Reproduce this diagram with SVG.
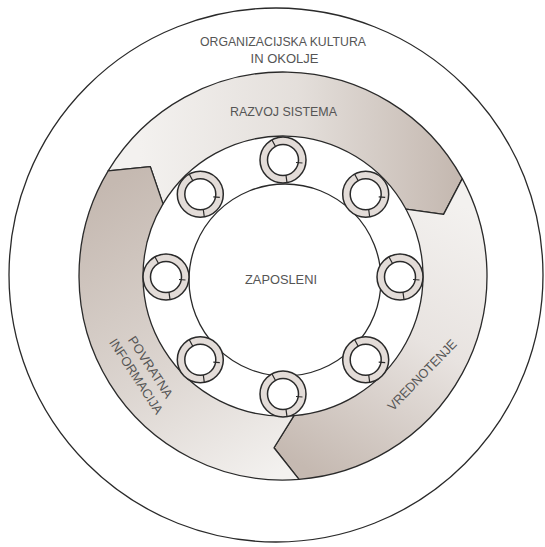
<svg xmlns="http://www.w3.org/2000/svg" xmlns:xlink="http://www.w3.org/1999/xlink" width="545" height="547" viewBox="0 0 545 547">
<style>
.ln{fill:none;stroke:#2a2a2a;stroke-width:1.3}
.seg{stroke:#2a2a2a;stroke-width:1.3;stroke-linejoin:round}
.txt{font-family:"Liberation Sans",Arial,sans-serif;font-size:13px;fill:#555;text-anchor:middle}
</style>
<defs>
<linearGradient id="gRaz" gradientUnits="userSpaceOnUse" x1="140" y1="0" x2="455" y2="0">
<stop offset="0" stop-color="#f3f1ef"/><stop offset="0.5" stop-color="#e4dfdb"/><stop offset="1" stop-color="#c5b9b1"/>
</linearGradient>
<linearGradient id="gVred" gradientUnits="userSpaceOnUse" x1="455" y1="200" x2="300" y2="465">
<stop offset="0" stop-color="#f3f1ef"/><stop offset="0.45" stop-color="#e8e3e0"/><stop offset="1" stop-color="#c5b9b1"/>
</linearGradient>
<linearGradient id="gPov" gradientUnits="userSpaceOnUse" x1="285" y1="470" x2="110" y2="185">
<stop offset="0" stop-color="#f3f1ef"/><stop offset="0.45" stop-color="#dcd5d0"/><stop offset="1" stop-color="#c5b9b1"/>
</linearGradient>
<g id="ring">
<path d="M0,-23A23,23 0 1 1 0,23A23,23 0 1 1 0,-23ZM0,-15.5A15.5,15.5 0 1 0 0,15.5A15.5,15.5 0 1 0 0,-15.5Z" fill="#e3dcd8" fill-rule="evenodd" stroke="#2a2a2a" stroke-width="1.5"/>
<path d="M-7.5,-13.5L-11,-20M19.5,3L13,2.5M3,15.3L4,22.7" fill="none" stroke="#2a2a2a" stroke-width="1.2"/>
</g>
</defs>
<rect width="545" height="547" fill="#fff"/>
<g id="outer-circle">
<circle class="ln" cx="276" cy="275" r="267"/>
<text class="txt" x="283" y="46" textLength="166" lengthAdjust="spacingAndGlyphs">ORGANIZACIJSKA KULTURA</text>
<text class="txt" x="284.5" y="62.5">IN OKOLJE</text>
</g>
<g id="razvoj-sistema">
<path class="seg" fill="url(#gRaz)" d="M108.14,170.93A204,204 0 0 1 462.28,178.66L443.58,214.36L406.03,209.2A140,140 0 0 0 163,203.9L150.28,166.59Z"/>
<text class="txt" x="283.5" y="116" textLength="107" lengthAdjust="spacingAndGlyphs">RAZVOJ SISTEMA</text>
</g>
<g id="vrednotenje">
<path class="seg" fill="url(#gVred)" d="M462.28,178.66A204,204 0 0 1 299.01,479.37L274,447.76L293.98,415.57A140,140 0 0 0 406.03,209.2L443.58,214.36Z"/>
<text class="txt" transform="translate(422,375) rotate(-46)" x="0" y="4.5" textLength="93" lengthAdjust="spacingAndGlyphs">VREDNOTENJE</text>
</g>
<g id="povratna-informacija">
<path class="seg" fill="url(#gPov)" d="M299.01,479.37A204,204 0 0 1 108.14,170.93L150.28,166.59L163,203.9A140,140 0 0 0 293.98,415.57L274,447.76Z"/>
<g transform="translate(143,372) rotate(57)">
<text class="txt" x="0" y="-4.5" textLength="71" lengthAdjust="spacingAndGlyphs">POVRATNA</text>
<text class="txt" x="0" y="12.5" textLength="87" lengthAdjust="spacingAndGlyphs">INFORMACIJA</text>
</g>
</g>
<g id="zaposleni">
<circle class="ln" cx="285" cy="280" r="96" fill="#fff"/>
<text class="txt" x="281" y="284" textLength="72" lengthAdjust="spacingAndGlyphs">ZAPOSLENI</text>
</g>
<g id="ring-n"><use xlink:href="#ring" transform="translate(283,160)"/></g>
<g id="ring-ne"><use xlink:href="#ring" transform="translate(365.7,194.3)"/></g>
<g id="ring-e"><use xlink:href="#ring" transform="translate(400,277)"/></g>
<g id="ring-se"><use xlink:href="#ring" transform="translate(365.7,359.7)"/></g>
<g id="ring-s"><use xlink:href="#ring" transform="translate(283,394)"/></g>
<g id="ring-sw"><use xlink:href="#ring" transform="translate(200.3,359.7)"/></g>
<g id="ring-w"><use xlink:href="#ring" transform="translate(166,277)"/></g>
<g id="ring-nw"><use xlink:href="#ring" transform="translate(200.3,194.3)"/></g>
<g id="connectors"/>
</svg>
